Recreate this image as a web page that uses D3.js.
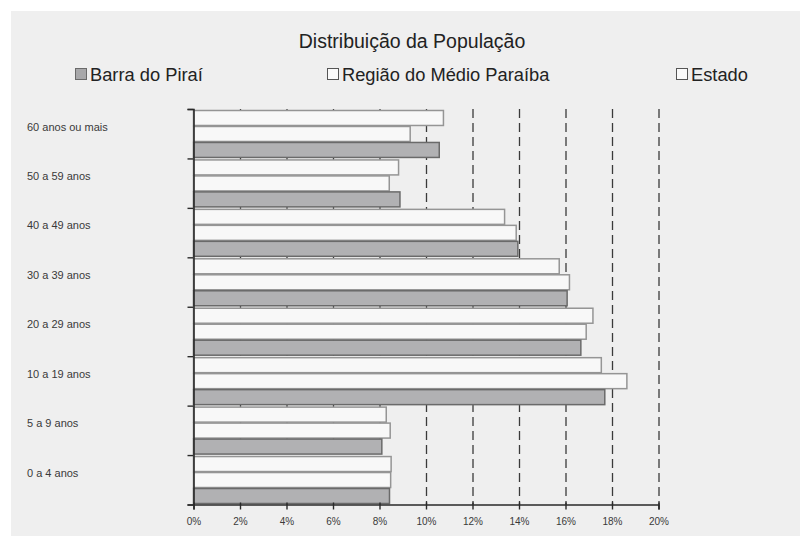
<!DOCTYPE html>
<html>
<head>
<meta charset="utf-8">
<script src="https://cdn.jsdelivr.net/npm/d3@7"></script>
<style>
  html, body { margin: 0; padding: 0; background: #ffffff; }
  svg { display: block; }
  text { font-family: "Liberation Sans", Arial, sans-serif; }
</style>
</head>
<body>
<script>
// Age groups, top to bottom
const categories = ["60 anos ou mais", "50 a 59 anos", "40 a 49 anos", "30 a 39 anos",
                    "20 a 29 anos", "10 a 19 anos", "5 a 9 anos", "0 a 4 anos"];
// Share of population (%) per age group
const barraDoPirai = [10.57, 8.88, 13.95, 16.07, 16.66, 17.69, 8.10, 8.43];
const regiaoMedioParaiba = [9.32, 8.42, 13.88, 16.17, 16.89, 18.64, 8.46, 8.48];
const estado = [10.75, 8.82, 13.38, 15.73, 17.18, 17.54, 8.29, 8.50];
const seriesNames = ["Barra do Piraí", "Região do Médio Paraíba", "Estado"];
const xTicks = [0, 2, 4, 6, 8, 10, 12, 14, 16, 18, 20];

const W = 800, H = 536;
const plot = { left: 193.5, right: 658.5, top: 109, bottom: 504.5 };

const svg = d3.select("body").append("svg").attr("width", W).attr("height", H);
svg.append("rect").attr("x", 11).attr("y", 11).attr("width", W - 11).attr("height", H - 11)
  .attr("fill", "#efefef");

const x = d3.scaleLinear().domain([0, 20]).range([plot.left, plot.right]);
const y = d3.scaleBand().domain(categories).range([plot.top, plot.bottom])
  .paddingInner(0.03).paddingOuter(0.015);
// within a group: Estado on top, then Região, then Barra do Piraí
const sub = d3.scaleBand().domain(["estado", "regiao", "barra"]).range([0, y.bandwidth()]).padding(0);

// dashed vertical gridlines behind the bars
const grid = svg.append("g").attr("transform", `translate(0,${plot.top})`)
  .call(d3.axisBottom(x).tickValues(xTicks.filter(d => d > 0)).tickSize(plot.bottom - plot.top).tickFormat(""));
grid.select(".domain").remove();
grid.selectAll(".tick line").attr("stroke", "#3a3a3a").attr("stroke-width", 1.3)
  .attr("stroke-dasharray", "9,5");

const rows = categories.map((c, i) => ({
  cat: c,
  bars: [
    { key: "estado", v: estado[i] },
    { key: "regiao", v: regiaoMedioParaiba[i] },
    { key: "barra", v: barraDoPirai[i] }
  ]
}));

const styleFor = {
  barra: { fill: "#b1b1b3", stroke: "#6a6a6a" },
  regiao: { fill: "#f8f8f8", stroke: "#959595" },
  estado: { fill: "#f8f8f8", stroke: "#959595" }
};

const groups = svg.append("g").selectAll("g").data(rows).join("g")
  .attr("transform", d => `translate(0,${y(d.cat)})`);
groups.selectAll("rect").data(d => d.bars).join("rect")
  .attr("x", x(0))
  .attr("y", d => sub(d.key) + 0.75)
  .attr("width", d => x(d.v) - x(0))
  .attr("height", sub.bandwidth() - 1)
  .attr("fill", d => styleFor[d.key].fill)
  .attr("stroke", d => styleFor[d.key].stroke)
  .attr("stroke-width", 1.5);

// category axis: ticks at group boundaries
const yEdge = d3.scaleLinear().domain([0, categories.length]).range([plot.top, plot.bottom]);
const yAxis = svg.append("g").attr("transform", `translate(${plot.left},0)`)
  .call(d3.axisLeft(yEdge).ticks(categories.length).tickSize(6).tickFormat(""));
yAxis.select(".domain").attr("stroke", "#2a2a2a").attr("stroke-width", 1.6);
yAxis.selectAll(".tick line").attr("stroke", "#2a2a2a").attr("stroke-width", 1.4);

svg.append("g").selectAll("text").data(categories).join("text")
  .attr("x", 27).attr("y", d => y(d) + y.bandwidth() / 2 - 7)
  .attr("dy", "0.35em")
  .attr("font-size", 11).attr("fill", "#3a3a3a")
  .text(d => d);

// value axis
const xAxis = svg.append("g").attr("transform", `translate(0,${plot.bottom})`)
  .call(d3.axisBottom(x).tickValues(xTicks).tickSize(5).tickPadding(8).tickFormat(d => d + "%"));
xAxis.select(".domain").attr("stroke", "#2a2a2a").attr("stroke-width", 1.6);
xAxis.selectAll(".tick line").attr("stroke", "#2a2a2a").attr("stroke-width", 1.4).attr("y1", -2);
xAxis.selectAll(".tick text").attr("font-size", 10).attr("fill", "#3a3a3a")
  .attr("font-family", "\"Liberation Sans\", Arial, sans-serif");

// title
svg.append("text").attr("x", 412).attr("y", 48).attr("text-anchor", "middle")
  .attr("font-size", 19.5).attr("fill", "#222").text("Distribuição da População");

// legend
const legendItems = [
  { name: seriesNames[0], x: 75, key: "barra" },
  { name: seriesNames[1], x: 327, key: "regiao" },
  { name: seriesNames[2], x: 676, key: "estado" }
];
const lg = svg.append("g").selectAll("g").data(legendItems).join("g")
  .attr("transform", d => `translate(${d.x},68)`);
lg.append("rect").attr("x", 0.5).attr("y", 0.5).attr("width", 11).attr("height", 11)
  .attr("fill", d => d.key === "barra" ? "#a8a8aa" : "#fafafa")
  .attr("stroke", d => d.key === "barra" ? "#6a6a6a" : "#555").attr("stroke-width", 1);
lg.append("text").attr("x", 15).attr("y", 13).attr("font-size", 18.3).attr("fill", "#222")
  .text(d => d.name);
</script>
</body>
</html>
